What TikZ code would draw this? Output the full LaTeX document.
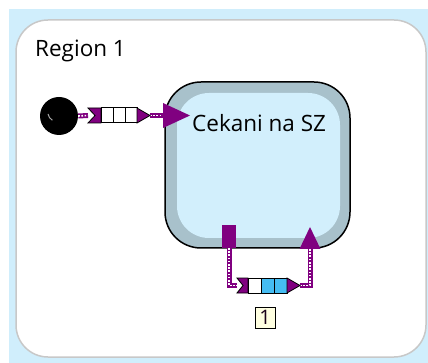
\documentclass[tikz,border=0pt]{standalone}
\usepackage{fontspec}
\setmainfont{Open Sans}
\definecolor{bgblue}{HTML}{D0EEFC}
\definecolor{regborder}{HTML}{C8C8C8}
\definecolor{ringcol}{HTML}{A8C1CB}
\definecolor{statefill}{HTML}{D2EFFC}
\definecolor{wirepurple}{HTML}{800080}
\definecolor{cellblue}{HTML}{45BCF2}
\definecolor{notefill}{HTML}{FFFFE1}
\begin{document}
\begin{tikzpicture}[x=1pt,y=-1pt,
  wire/.style={draw=wirepurple, line width=5pt,
    postaction={draw=white, line width=1.6pt, dash pattern=on 1.6pt off 1.6pt}},
  cell/.style={draw=black, line width=1pt},
  qend/.style={fill=wirepurple, draw=black, line width=0.8pt, line join=miter},
  lbl/.style={font=\fontsize{22.5}{26}\selectfont, inner sep=0pt, text=black}]
\useasboundingbox (0,0) rectangle (428,363);
% background
\fill[white] (0,0) rectangle (428,363);
\fill[bgblue] (9,9) rectangle (428,363);
\node[draw=regborder, line width=1.5pt, fill=white, rounded corners=32pt,
  minimum width=410pt, minimum height=337pt, inner sep=0pt] (region) at (221,188.5) {};
\node[lbl, anchor=base west] (regtitle) at (35,57) {Region 1};
% state
\node[draw=black, line width=1.5pt, fill=ringcol, rounded corners=36pt,
  minimum width=185pt, minimum height=166pt, inner sep=0pt] (state) at (257.5,165) {};
\fill[statefill, rounded corners=32pt] (177,93) rectangle (340,238);
\node[lbl, anchor=base west] (statename) at (192,132) {Cekani na SZ};
% initial pseudo state
\node[circle, fill=black, minimum size=38pt, inner sep=0pt] (init) at (59,116) {};
\draw[gray!70, line width=1pt] ([shift={(-11,-2)}]init.center) arc[start angle=190, end angle=240, radius=9pt];
% top queue
\coordinate (q1in) at (88,115.5);
\coordinate (q1out) at (150,115.5);
\coordinate (a1base) at (165,115.5);
\draw[wire] (init.east) -- (q1in);
\draw[wire] (q1out) -- (a1base);
\filldraw[qend] (88,108) -- (101,108) -- (101,123) -- (88,123) -- (95,115.5) -- cycle;
\draw[cell, fill=white] (101,108) rectangle (113,123);
\draw[cell, fill=white] (113,108) rectangle (125,123);
\draw[cell, fill=white] (125,108) rectangle (137,123);
\filldraw[qend] (137,108) -- (150,115.5) -- (137,123) -- cycle;
\fill[wirepurple] (163,103) -- (190,115.5) -- (163,128) -- cycle;
% self loop
\fill[wirepurple] (222,225) rectangle (236,248);
\coordinate (exitpt) at (229,248);
\coordinate (q2in) at (237,285.5);
\coordinate (q2out) at (300,285.5);
\coordinate (a2base) at (310,248);
\draw[wire] (exitpt) |- (q2in);
\draw[wire] (q2out) -| (a2base);
\filldraw[qend] (237,278) -- (248,278) -- (248,293) -- (237,293) -- (243,285.5) -- cycle;
\draw[cell, fill=white] (248,278) rectangle (261,293);
\draw[cell, fill=cellblue] (261,278) rectangle (274,293);
\draw[cell, fill=cellblue] (274,278) rectangle (287,293);
\filldraw[qend] (287,278) -- (300,285.5) -- (287,293) -- cycle;
\fill[wirepurple] (299.5,249) -- (310,227) -- (320.5,249) -- cycle;
% counter label
\node[draw=black, line width=1pt, fill=notefill, minimum width=20pt, minimum height=21pt,
  inner sep=0pt, font=\fontsize{20}{22}\selectfont, text=black!80!wirepurple] (count) at (265,317.5) {1};
\end{tikzpicture}
\end{document}
